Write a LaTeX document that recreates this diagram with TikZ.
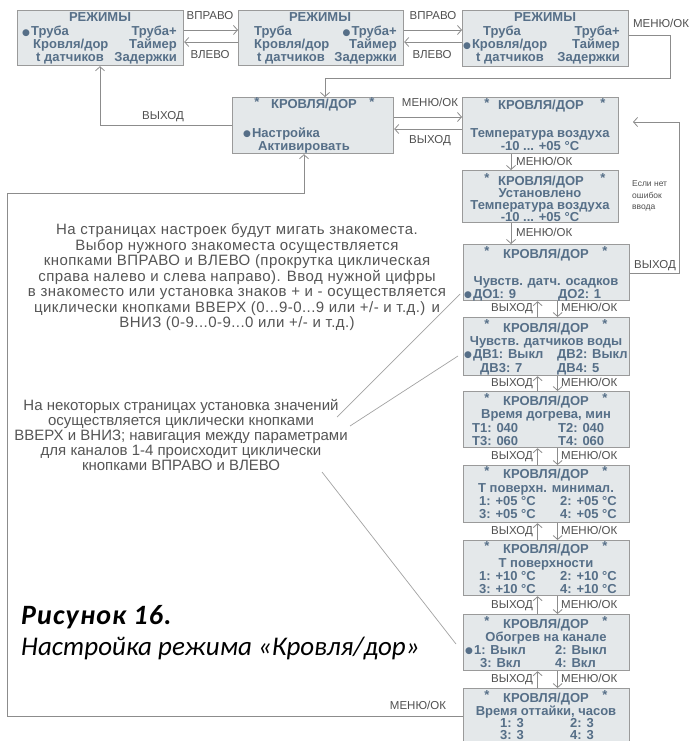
\documentclass[tikz,border=0pt]{standalone}
\usepackage{fontspec}
\setmainfont{Liberation Sans}
\newfontfamily\capfont{Carlito}
\newfontfamily\capbold[LetterSpace=4]{Carlito}
\newfontfamily\bodyfont[LetterSpace=3]{Liberation Sans}
\newfontfamily\symfont{DejaVu Sans}
\usetikzlibrary{arrows.meta}
\definecolor{boxfill}{HTML}{E4E8EA}
\definecolor{boxline}{HTML}{9A9A9A}
\definecolor{boxtext}{HTML}{566F88}
\definecolor{lbltext}{HTML}{505050}
\definecolor{linec}{HTML}{8C8C8C}
\definecolor{bodytext}{HTML}{555555}
\newcommand{\bul}{\raisebox{0.6pt}{\symfont\fontsize{9}{9}\selectfont ●}\hspace{1pt}}
\tikzset{
 box/.style={draw=boxline, fill=boxfill, line width=1.2pt, rectangle, inner sep=0pt, anchor=north west},
 bt/.style={font=\bfseries\fontsize{13}{14}\selectfont, text=boxtext, inner sep=0pt, text height=9pt, text depth=3pt, yshift=-2pt},
 btw/.style={bt, anchor=west},
 bte/.style={bt, anchor=east},
 lbl/.style={font=\fontsize{11.5}{13}\selectfont, text=lbltext, inner sep=0pt, text height=8pt, text depth=2pt},
 con/.style={draw=linec, line width=0.8pt},
 arr/.style={con, -{Straight Barb[length=4pt,width=9pt]}},
 lead/.style={draw=linec!80, line width=0.7pt},
 body/.style={font=\fontsize{15}{15.5}\selectfont, text=bodytext, align=center, inner sep=0pt},
}
\begin{document}
\begin{tikzpicture}[x=1pt,y=-1pt]
\path[use as bounding box] (0,0) rectangle (696,741);
\clip (0,0) rectangle (696,741);
\fill[white] (0,0) rectangle (696,741);

% ---------- РЕЖИМЫ boxes ----------
\node[box, minimum width=166pt, minimum height=55pt] (r1) at (17,10) {};
\node[box, minimum width=165pt, minimum height=55pt] (r2) at (238,10) {};
\node[box, minimum width=166pt, minimum height=56pt] (r3) at (462,10) {};

\node[bt] (r1t) at (100,17) {РЕЖИМЫ};
\node[btw] (r1a) at (22,31) {\bul Труба};
\node[bte] (r1b) at (177,31) {Труба+};
\node[btw] (r1c) at (33,44) {Кровля/дор};
\node[bte] (r1d) at (177,44) {Таймер};
\node[btw] (r1e) at (36,57) {t датчиков};
\node[bte] (r1f) at (177,57) {Задержки};

\node[bt] (r2t) at (320,17) {РЕЖИМЫ};
\node[btw] (r2a) at (254,31) {Труба};
\node[bte] (r2b) at (397,31) {\bul Труба+};
\node[btw] (r2c) at (254,44) {Кровля/дор};
\node[bte] (r2d) at (397,44) {Таймер};
\node[btw] (r2e) at (257,57) {t датчиков};
\node[bte] (r2f) at (397,57) {Задержки};

\node[bt] (r3t) at (545,17) {РЕЖИМЫ};
\node[btw] (r3a) at (483,31) {Труба};
\node[bte] (r3b) at (620,31) {Труба+};
\node[btw] (r3c) at (463,44) {\bul Кровля/дор};
\node[bte] (r3d) at (620,44) {Таймер};
\node[btw] (r3e) at (476,57) {t датчиков};
\node[bte] (r3f) at (620,57) {Задержки};

% ---------- КРОВЛЯ/ДОР boxes ----------
\node[box, minimum width=161pt, minimum height=56pt] (k1) at (232,97) {};
\node[box, minimum width=156pt, minimum height=56pt] (k2) at (462,97) {};
\node[box, minimum width=156pt, minimum height=52pt] (k3) at (462,170) {};
\node[box, minimum width=166pt, minimum height=56pt] (k4) at (463,244) {};
\node[box, minimum width=166pt, minimum height=58pt] (k5) at (463,317) {};
\node[box, minimum width=166pt, minimum height=56pt] (k6) at (463,391) {};
\node[box, minimum width=166pt, minimum height=57pt] (k7) at (463,465) {};
\node[box, minimum width=166pt, minimum height=55pt] (k8) at (463,540) {};
\node[box, minimum width=166pt, minimum height=56pt] (k9) at (463,614) {};
\node[box, minimum width=166pt, minimum height=80pt] (k10) at (463,688) {};

% K1
\node[bt] (k1s1) at (257,102) {*};
\node[bt] (k1s2) at (372,102) {*};
\node[bt] (k1t) at (314,104) {КРОВЛЯ/ДОР};
\node[btw] (k1a) at (243,132) {\bul Настройка};
\node[btw] (k1b) at (258,145) {Активировать};
% K2
\node[bt] (k2s1) at (487,103) {*};
\node[bt] (k2s2) at (603,103) {*};
\node[bt] (k2t) at (541,105) {КРОВЛЯ/ДОР};
\node[bt] (k2a) at (540,132) {Температура воздуха};
\node[bt] (k2b) at (540,145) {-10 ... +05 °C};
% K3
\node[bt] (k3s1) at (487,177) {*};
\node[bt] (k3s2) at (603,177) {*};
\node[bt] (k3t) at (541,180) {КРОВЛЯ/ДОР};
\node[bt] (k3a) at (540,192) {Установлено};
\node[bt] (k3b) at (540,204) {Температура воздуха};
\node[bt] (k3c) at (540,216) {-10 ... +05 °C};
% K4
\node[bt] (k4s1) at (487,250) {*};
\node[bt] (k4s2) at (605,250) {*};
\node[bt] (k4t) at (546,253) {КРОВЛЯ/ДОР};
\node[bt] (k4a) at (546,280) {Чувств. датч. осадков};
\node[btw] (k4b) at (464,293) {\bul ДО1: 9};
\node[btw] (k4c) at (558,293) {ДО2: 1};
% K5
\node[bt] (k5s1) at (487,323) {*};
\node[bt] (k5s2) at (605,323) {*};
\node[bt] (k5t) at (546,327) {КРОВЛЯ/ДОР};
\node[bt] (k5a) at (546,340) {Чувств. датчиков воды};
\node[btw] (k5b) at (464,353) {\bul ДВ1: Выкл};
\node[btw] (k5c) at (557,353) {ДВ2: Выкл};
\node[btw] (k5d) at (480,367) {ДВ3: 7};
\node[btw] (k5e) at (557,367) {ДВ4: 5};
% K6
\node[bt] (k6s1) at (487,397) {*};
\node[bt] (k6s2) at (605,397) {*};
\node[bt] (k6t) at (546,400) {КРОВЛЯ/ДОР};
\node[bt] (k6a) at (546,413) {Время догрева, мин};
\node[btw] (k6b) at (472,427) {T1: 040};
\node[btw] (k6c) at (558,427) {T2: 040};
\node[btw] (k6d) at (472,440) {T3: 060};
\node[btw] (k6e) at (558,440) {T4: 060};
% K7
\node[bt] (k7s1) at (487,470) {*};
\node[bt] (k7s2) at (605,470) {*};
\node[bt] (k7t) at (546,473) {КРОВЛЯ/ДОР};
\node[bt] (k7a) at (546,487) {Т поверхн. минимал.};
\node[btw] (k7b) at (479,500) {1: +05 °C};
\node[btw] (k7c) at (560,500) {2: +05 °C};
\node[btw] (k7d) at (479,513) {3: +05 °C};
\node[btw] (k7e) at (560,513) {4: +05 °C};
% K8
\node[bt] (k8s1) at (487,545) {*};
\node[bt] (k8s2) at (605,545) {*};
\node[bt] (k8t) at (546,548) {КРОВЛЯ/ДОР};
\node[bt] (k8a) at (546,562) {Т поверхности};
\node[btw] (k8b) at (479,575) {1: +10 °C};
\node[btw] (k8c) at (560,575) {2: +10 °C};
\node[btw] (k8d) at (479,588) {3: +10 °C};
\node[btw] (k8e) at (560,588) {4: +10 °C};
% K9
\node[bt] (k9s1) at (487,620) {*};
\node[bt] (k9s2) at (605,620) {*};
\node[bt] (k9t) at (546,623) {КРОВЛЯ/ДОР};
\node[bt] (k9a) at (546,636) {Обогрев на канале};
\node[btw] (k9b) at (465,649) {\bul 1: Выкл};
\node[btw] (k9c) at (555,649) {2: Выкл};
\node[btw] (k9d) at (480,662) {3: Вкл};
\node[btw] (k9e) at (555,662) {4: Вкл};
% K10
\node[bt] (k10s1) at (487,694) {*};
\node[bt] (k10s2) at (605,694) {*};
\node[bt] (k10t) at (546,697) {КРОВЛЯ/ДОР};
\node[bt] (k10a) at (546,710) {Время оттайки, часов};
\node[btw] (k10b) at (500,722) {1: 3};
\node[btw] (k10c) at (570,722) {2: 3};
\node[btw] (k10d) at (500,734) {3: 3};
\node[btw] (k10e) at (570,734) {4: 3};

% ---------- connectors top row ----------
\coordinate (y30) at (0,30);
\coordinate (y42) at (0,42);
\draw[arr] (r1.east |- y30) -- (r2.west |- y30);
\draw[arr] (r2.west |- y42) -- (r1.east |- y42);
\draw[arr] (r2.east |- y30) -- (r3.west |- y30);
\draw[arr] (r3.west |- y42) -- (r2.east |- y42);
\node[lbl] (l1) at (210,17) {ВПРАВО};
\node[lbl] (l2) at (210,56) {ВЛЕВО};
\node[lbl] (l3) at (433,17) {ВПРАВО};
\node[lbl] (l4) at (432,56) {ВЛЕВО};

% R3 -> K1
\coordinate (c1) at (670,35);
\coordinate (c2) at (670,78);
\coordinate (c3) at (325,78);
\draw[arr] (r3.east |- c1) -- (c1) -- (c2) -- (c3) -- (c3 |- k1.north);
\node[lbl] (l5) at (661,25) {МЕНЮ/ОК};

% K1 -> R1
\coordinate (d1) at (100,125);
\draw[arr] (k1.west |- d1) -- (d1) -- (d1 |- r1.south);
\node[lbl] (l6) at (163,117) {ВЫХОД};

% K1 <-> K2
\coordinate (y117) at (0,117);
\coordinate (y129) at (0,129);
\draw[arr] (k1.east |- y117) -- (k2.west |- y117);
\draw[arr] (k2.west |- y129) -- (k1.east |- y129);
\node[lbl] (l7) at (430,104) {МЕНЮ/ОК};
\node[lbl] (l8) at (430,140) {ВЫХОД};

% K2 -> K3 -> K4
\coordinate (vx) at (511,0);
\draw[arr] (k2.south -| vx) -- (k3.north -| vx);
\draw[arr] (k3.south -| vx) -- (k4.north -| vx);
\node[lbl, anchor=west] (l9) at (516,162) {МЕНЮ/ОК};
\node[lbl, anchor=west] (l10) at (516,233) {МЕНЮ/ОК};

% right loop K4 -> K2
\coordinate (e1) at (679,273);
\coordinate (e2) at (679,122);
\coordinate (e3) at (633,122);
\draw[arr] (k4.east |- e1) -- (e1) -- (e2) -- (e3);
\node[lbl] (l11) at (655,265) {ВЫХОД};
\node[font=\fontsize{8.5}{11.5}\selectfont, text=lbltext, align=left, anchor=west, inner sep=0pt] (l12) at (632,196) {Если нет\\ошибок\\ввода};

% lower stack arrows
\foreach \a/\b/\m in {k4/k5/308, k5/k6/383, k6/k7/456, k7/k8/531, k8/k9/605, k9/k10/679}{
  \draw[arr] ([xshift=-9pt]\b.north) -- ([xshift=-9pt]\a.south);
  \draw[arr] ([xshift=11pt]\a.south) -- ([xshift=11pt]\b.north);
  \node[lbl, anchor=east] (lx\a) at (533,\m) {ВЫХОД};
  \node[lbl, anchor=west] (lm\a) at (561,\m) {МЕНЮ/ОК};
}

% bottom-left loop K10 -> K1
\coordinate (f1) at (7,716);
\coordinate (f2) at (7,193);
\coordinate (f3) at (304,193);
\draw[arr] (k10.west |- f1) -- (f1) -- (f2) -- (f3) -- (f3 |- k1.south);
\node[lbl] (l13) at (418,706) {МЕНЮ/ОК};

% ---------- notes ----------
\node[body, font=\bodyfont\fontsize{15}{15.5}\selectfont] (n1) at (237,277.5) {На страницах настроек будут мигать знакоместа.\\
Выбор нужного знакоместа осуществляется\\
кнопками ВПРАВО и ВЛЕВО (прокрутка циклическая\\
справа налево и слева направо). Ввод нужной цифры\\
в знакоместо или установка знаков + и - осуществляется\\
циклически кнопками ВВЕРХ (0...9-0...9 или +/- и т.д.) и\\
ВНИЗ (0-9...0-9...0 или +/- и т.д.)};

\node[body, font=\fontsize{15}{15}\selectfont] (n2) at (181,435) {На некоторых страницах установка значений\\
осуществляется циклически кнопками\\
ВВЕРХ и ВНИЗ; навигация между параметрами\\
для каналов 1-4 происходит циклически\\
кнопками ВПРАВО и ВЛЕВО};

% leader lines
\coordinate (g1) at (337,417);
\coordinate (g2) at (460,294);
\coordinate (g3) at (350,426);
\coordinate (g4) at (458,356);
\coordinate (g5) at (322,472);
\coordinate (g6) at (456,644);
\draw[lead] (g1) -- (g2);
\draw[lead] (g3) -- (g4);
\draw[lead] (g5) -- (g6);

% caption
\node[anchor=west, inner sep=0pt, font=\capbold\bfseries\itshape\fontsize{28}{30}\selectfont] (cap1) at (21,617) {Рисунок 16.};
\node[anchor=west, inner sep=0pt, font=\capfont\itshape\fontsize{27}{30}\selectfont] (cap2) at (21,648) {Настройка режима «Кровля/дор»};
\end{tikzpicture}
\end{document}
